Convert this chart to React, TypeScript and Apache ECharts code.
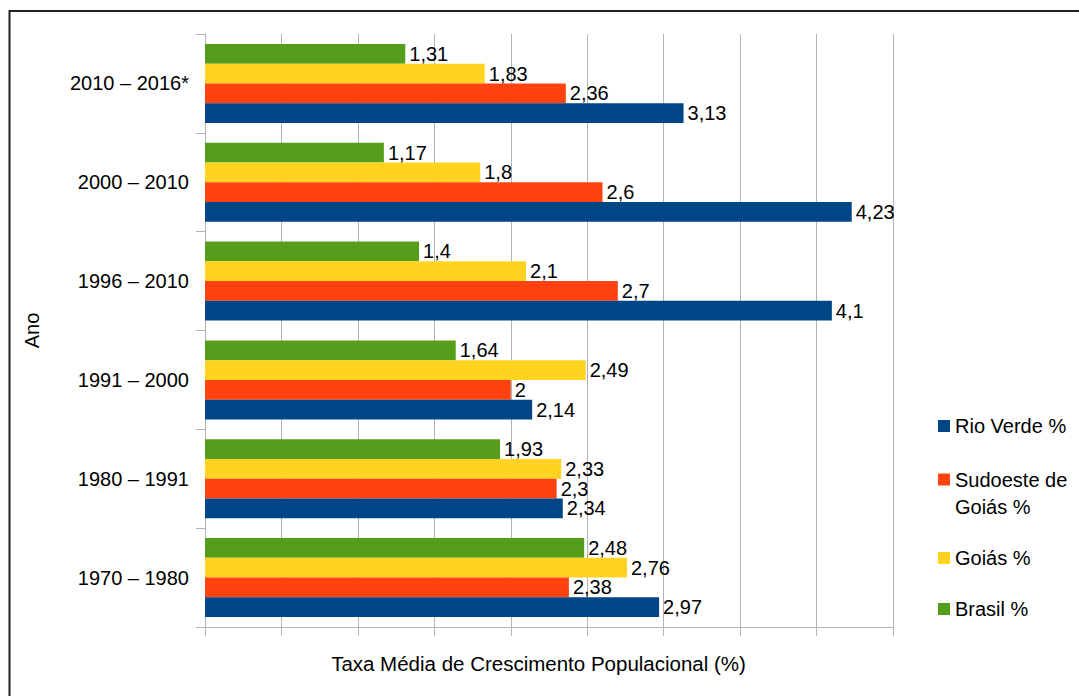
import React, { useEffect, useRef } from "react";
import * as echarts from "echarts";

const categories = [
  "1970 – 1980",
  "1980 – 1991",
  "1991 – 2000",
  "1996 – 2010",
  "2000 – 2010",
  "2010 – 2016*",
];
const rioVerde = [2.97, 2.34, 2.14, 4.1, 4.23, 3.13];
const sudoeste = [2.38, 2.3, 2, 2.7, 2.6, 2.36];
const goias = [2.76, 2.33, 2.49, 2.1, 1.8, 1.83];
const brasil = [2.48, 1.93, 1.64, 1.4, 1.17, 1.31];

const seriesNames = ["Rio Verde %", "Sudoeste de Goiás %", "Goiás %", "Brasil %"];
const seriesColors = ["#004586", "#ff420e", "#ffd320", "#579d1c"];
const seriesData = [rioVerde, sudoeste, goias, brasil];

const FONT = "'Liberation Sans', Arial, sans-serif";

export default function App() {
  const ref = useRef<HTMLDivElement>(null);
  useEffect(() => {
    if (!ref.current) return;
    const chart = echarts.init(ref.current, null, { renderer: "svg" });
    const legendTops = [413, 439, 545, 596];
    // draw order: Brasil first so that within each category it is on top
    const order = [3, 2, 1, 0];
    chart.setOption({
      animation: false,
      backgroundColor: "#ffffff",
      textStyle: { fontFamily: FONT },
      graphic: [
        {
          type: "rect",
          silent: true,
          z: -10,
          shape: { x: 9.5, y: 11, width: 1200, height: 1000 },
          style: { fill: "none", stroke: "#222222", lineWidth: 2 },
        },
      ],
      grid: { left: 205, right: 186, top: 34, bottom: 69, containLabel: false },
      legend: seriesNames.map((n, i) => ({
        orient: "vertical",
        left: 938,
        top: legendTops[i],
        padding: 0,
        icon: "rect",
        itemWidth: 12,
        itemHeight: 12,
        selectedMode: false,
        data: [n],
        formatter: (name: string) =>
          name === "Sudoeste de Goiás %" ? "\nSudoeste de\nGoiás %" : name,
        textStyle: { fontSize: 20, color: "#000", fontFamily: FONT, lineHeight: i === 1 ? 27 : 26 },
      })),
      xAxis: {
        type: "value",
        min: 0,
        max: 4.5,
        interval: 0.5,
        name: "Taxa Média de Crescimento Populacional (%)",
        nameLocation: "middle",
        nameGap: 26,
        nameTextStyle: { fontSize: 20.5, color: "#000", fontFamily: FONT, padding: [0, 21, 0, 0] },
        axisLabel: { show: false },
        axisLine: { show: true, lineStyle: { color: "#b3b3b3", width: 1 } },
        axisTick: { show: true, length: 9, lineStyle: { color: "#b3b3b3" } },
        splitLine: { show: true, lineStyle: { color: "#b3b3b3", width: 1 } },
      },
      yAxis: {
        type: "category",
        data: categories,
        name: "Ano",
        nameLocation: "middle",
        nameRotate: 90,
        nameGap: 163,
        nameTextStyle: { fontSize: 20, color: "#000", fontFamily: FONT },
        axisLabel: { fontSize: 20, color: "#000", margin: 16, fontFamily: FONT },
        axisLine: { show: true, lineStyle: { color: "#b3b3b3", width: 1 } },
        axisTick: { show: true, length: 9, lineStyle: { color: "#b3b3b3" } },
        splitLine: { show: false },
      },
      series: order.map((i) => ({
        name: seriesNames[i],
        type: "bar",
        data: seriesData[i],
        barGap: "0%",
        barCategoryGap: "20%",
        itemStyle: { color: seriesColors[i] },
        label: {
          show: true,
          position: "right",
          distance: 4,
          fontSize: 20,
          color: "#000",
          fontFamily: FONT,
          formatter: (p: any) => String(p.value).replace(".", ","),
        },
      })),
    });
    return () => chart.dispose();
  }, []);
  return (
    <div
      ref={ref}
      style={{ position: "fixed", left: 0, top: 0, width: 1079, height: 696 }}
    />
  );
}
